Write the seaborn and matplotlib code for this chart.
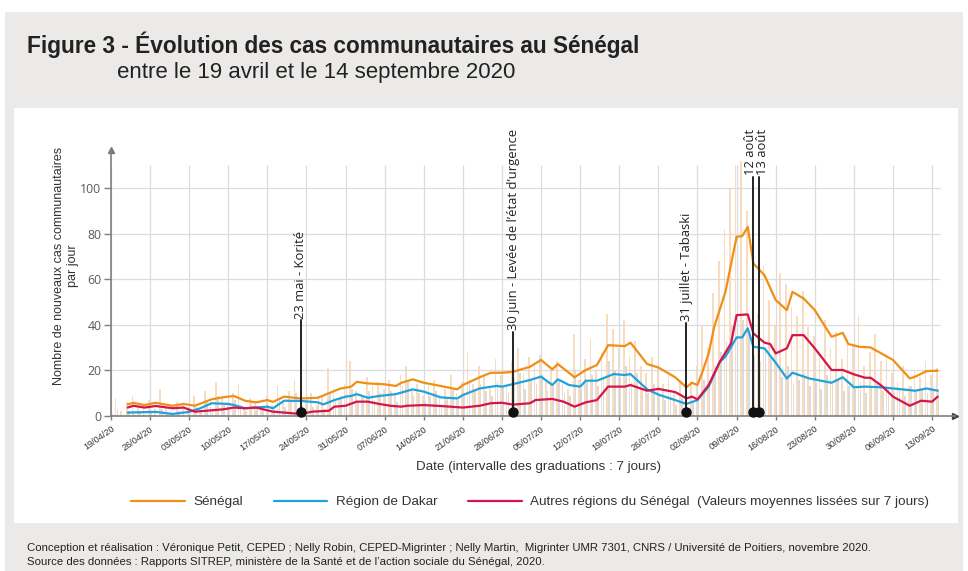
import matplotlib
matplotlib.use("Agg")
import numpy as np
import pandas as pd
import seaborn as sns
import matplotlib.pyplot as plt
from matplotlib import font_manager
from matplotlib.patches import Rectangle
from matplotlib.lines import Line2D

# --- Data (days counted from 19/04/2020) ---
tick_labels = ["19/04/20", "26/04/20", "03/05/20", "10/05/20", "17/05/20", "24/05/20",
               "31/05/20", "07/06/20", "14/06/20", "21/06/20", "28/06/20", "05/07/20",
               "12/07/20", "19/07/20", "26/07/20", "02/08/20", "09/08/20", "16/08/20",
               "23/08/20", "30/08/20", "06/09/20", "13/09/20"]

# daily new community cases (faint bars)
senegal_daily = [3, 8, 2, 6, 9, 4, 5,
                 7, 3, 12, 4, 2, 6, 5,
                 4, 9, 3, 11, 6, 15, 8,
                 5, 10, 14, 3, 8, 6, 4,
                 9, 5, 13, 7, 11, 16, 4,
                 7, 10, 5, 9, 21, 12, 8,
                 14, 24, 11, 9, 17, 13, 15,
                 12, 16, 10, 18, 22, 11, 14,
                 9, 13, 16, 8, 12, 18, 10,
                 15, 28, 14, 22, 17, 12, 25,
                 18, 13, 24, 30, 19, 26, 22,
                 27, 15, 20, 24, 14, 12, 36,
                 16, 25, 34, 20, 28, 45, 38,
                 30, 42, 27, 33, 22, 19, 26,
                 21, 14, 18, 11, 16, 9, 15,
                 22, 40, 30, 54, 68, 82, 100,
                 110, 112, 90, 58, 45, 66, 51,
                 40, 63, 58, 48, 44, 55, 39,
                 35, 28, 42, 30, 37, 25, 34,
                 31, 44, 22, 28, 36, 24, 27,
                 19, 15, 22, 13, 20, 17, 24,
                 18, 21]
dakar_daily = [1, 3, 0, 2, 1, 2, 1,
               2, 0, 3, 1, 1, 2, 0,
               1, 4, 2, 6, 3, 9, 5,
               3, 7, 5, 2, 6, 4, 3,
               5, 3, 8, 4, 7, 10, 5,
               6, 4, 8, 3, 10, 7, 9,
               8, 12, 6, 9, 11, 7, 10,
               8, 11, 6, 13, 15, 9, 10,
               6, 9, 11, 5, 8, 12, 7,
               10, 16, 12, 14, 11, 9, 15,
               13, 10, 17, 19, 12, 16, 14,
               18, 11, 13, 16, 10, 9, 20,
               12, 15, 18, 13, 17, 24, 20,
               17, 22, 15, 19, 12, 10, 14,
               9, 7, 10, 5, 8, 4, 6,
               8, 16, 14, 22, 28, 33, 40,
               45, 42, 36, 27, 24, 30, 26,
               20, 17, 22, 14, 16, 19, 13,
               15, 12, 18, 14, 16, 11, 13,
               12, 15, 10, 13, 14, 11, 12,
               10, 12, 9, 13, 11, 12, 10,
               11, 12]

# 7-day smoothed series
sen_days = [3, 4, 6, 8, 11, 13, 15, 18, 20, 22, 24, 26, 28, 29, 31, 34, 37, 39, 41, 43,
            44, 46, 49, 51, 52, 54, 56, 59, 62, 63, 66, 68, 70, 72, 75, 77, 79, 80, 83, 85,
            87, 89, 92, 93, 96, 98, 101, 103, 104, 105, 106, 107, 108, 110, 112, 113, 114, 115, 117, 119,
            121, 122, 124, 126, 129, 131, 132, 134, 136, 140, 143, 144, 146, 148]
sen_vals = [5.1, 5.8, 4.8, 5.8, 4.5, 5.3, 4.5, 7.3, 8.2, 8.8, 6.7, 6.0, 7.0, 6.2, 8.5, 7.7, 8.0, 10.0, 12.0, 12.9,
            15.0, 14.3, 13.9, 13.2, 14.6, 16.1, 14.6, 13.2, 11.7, 13.6, 17.0, 19.0, 19.0, 19.4, 21.6, 24.6, 20.5, 22.8, 17.0, 20.2,
            22.4, 31.1, 30.7, 32.2, 22.8, 21.3, 17.0, 12.6, 14.6, 13.6, 20.2, 27.5, 39.2, 54.5, 78.7, 79.0, 83.0, 67.0, 61.8, 50.9,
            46.5, 54.5, 51.6, 46.5, 34.8, 36.5, 31.6, 30.4, 30.1, 24.6, 16.5, 17.3, 19.7, 19.9]

dak_days = [3, 8, 11, 14, 16, 18, 21, 22, 24, 28, 29, 31, 34, 37, 38, 40, 42, 43, 44, 46,
            48, 51, 54, 56, 59, 62, 63, 66, 69, 70, 73, 75, 77, 79, 80, 82, 84, 85, 87, 90,
            92, 93, 96, 98, 101, 103, 105, 107, 109, 110, 112, 113, 114, 115, 117, 119, 121, 122, 125, 129,
            131, 133, 135, 138, 140, 144, 146, 148]
dak_vals = [1.5, 1.8, 0.9, 1.8, 3.4, 5.6, 5.3, 4.8, 3.4, 4.1, 3.4, 6.7, 6.6, 6.0, 5.1, 7.0, 8.5, 8.8, 9.6, 8.0,
            8.8, 9.6, 11.7, 10.7, 8.2, 7.7, 9.2, 12.1, 13.2, 12.9, 14.6, 15.8, 17.3, 13.6, 16.1, 13.6, 12.9, 15.5, 15.5, 18.4,
            18.0, 18.4, 11.7, 9.4, 7.0, 5.3, 7.0, 12.9, 23.8, 26.0, 34.5, 34.5, 38.5, 30.4, 29.7, 23.4, 16.5, 19.0, 16.5, 14.6,
            17.0, 12.6, 12.9, 12.6, 12.1, 11.1, 12.1, 11.1]

aut_days = [3, 4, 6, 8, 11, 13, 15, 17, 20, 22, 24, 26, 29, 31, 34, 36, 39, 40, 42, 44,
            46, 48, 50, 52, 53, 56, 59, 63, 66, 68, 70, 72, 75, 76, 79, 81, 83, 85, 87, 89,
            92, 93, 96, 98, 101, 102, 103, 104, 105, 107, 109, 111, 112, 114, 115, 117, 118, 119, 121, 122,
            124, 126, 129, 131, 133, 135, 136, 138, 140, 143, 145, 147, 148]
aut_vals = [3.7, 4.5, 3.7, 4.4, 3.4, 3.7, 1.9, 2.3, 2.9, 3.7, 3.4, 3.7, 1.9, 1.5, 0.9, 1.9, 2.3, 4.1, 4.5, 6.3,
            6.3, 5.3, 4.5, 4.1, 4.5, 4.8, 4.4, 3.7, 4.5, 5.6, 5.8, 5.0, 5.6, 7.0, 7.5, 6.3, 4.1, 6.0, 7.0, 12.9,
            12.9, 13.6, 11.1, 11.9, 10.5, 9.2, 7.7, 8.5, 7.3, 13.6, 23.8, 31.9, 44.3, 44.6, 36.3, 32.2, 31.6, 27.5, 29.7, 35.5,
            35.5, 29.7, 20.2, 20.2, 18.3, 16.8, 16.8, 13.2, 8.5, 4.5, 6.7, 6.3, 8.5]

event_days = [34, 72, 103, 115, 116]
event_tops = [42, 37, 41, 105, 105]
event_labels = ["23 mai - Korité", "30 juin - Levée de l\u2019état d\u2019urgence",
                "31 juillet - Tabaski", "12 août", "13 août"]
# small sideways nudge of the two close August labels so they sit side by side
event_text_shift = [0, 0, 0, -0.45, 0.55]

ORANGE = "#ef8f17"
BLUE = "#1ea3dc"
RED = "#d5144e"


def has_font(name):
    try:
        font_manager.findfont(font_manager.FontProperties(family=name), fallback_to_default=False)
        return True
    except Exception:
        return False


sns.set_theme(style="white")
plt.rcParams['font.family'] = ['Liberation Sans', 'DejaVu Sans']
NARROW = 'Liberation Sans Narrow' if has_font('Liberation Sans Narrow') else 'Liberation Sans'
TICKF = 'Open Sans' if has_font('Open Sans') else 'Liberation Sans'

W, H = 968, 571
fig = plt.figure(figsize=(W / 100, H / 100), dpi=100)
fig.patch.set_facecolor("white")

# grey page and white panel
fig.patches.append(Rectangle((5 / W, 0), 958 / W, 1 - 12 / H, transform=fig.transFigure,
                             facecolor="#ebeae8", edgecolor="none", zorder=-10))
fig.patches.append(Rectangle((14 / W, 1 - 523 / H), 944 / W, 415 / H, transform=fig.transFigure,
                             facecolor="white", edgecolor="none", zorder=-9))

ax = fig.add_axes([111 / W, 1 - 416 / H, (955 - 111) / W, (416 - 150) / H])
ax.set_facecolor("none")
ax.set_xlim(0, 151.1)
ax.set_ylim(0, 116.8)

# grid
yticks = [0, 20, 40, 60, 80, 100]
xticks = np.arange(len(tick_labels)) * 7
ax.hlines(yticks[1:], 0, 148.5, color="#dcdcdc", lw=0.9, zorder=0)
ax.vlines(xticks, 0, 110, color="#dcdcdc", lw=0.9, zorder=0)

# daily bars
days = np.arange(len(senegal_daily))
ax.bar(days - 0.17, senegal_daily, width=0.3, color="#f6d4b0", alpha=0.8, zorder=1, linewidth=0)
ax.bar(days + 0.17, dakar_daily, width=0.3, color="#d2d2d2", alpha=0.8, zorder=1, linewidth=0)

# smoothed lines
sns.lineplot(x=sen_days, y=sen_vals, ax=ax, color=ORANGE, lw=1.6, zorder=3)
sns.lineplot(x=dak_days, y=dak_vals, ax=ax, color=BLUE, lw=1.6, zorder=3)
sns.lineplot(x=aut_days, y=aut_vals, ax=ax, color=RED, lw=1.6, zorder=3)

# events
for d, top, lab, dx in zip(event_days, event_tops, event_labels, event_text_shift):
    ax.plot([d, d], [1.8, top], color="#222222", lw=1.4, zorder=4, clip_on=False)
    ax.plot([d], [1.8], "o", color="#111111", ms=6.5, zorder=5, clip_on=False)
    ax.text(d + dx, top + 0.8, lab, rotation=90, ha="center", va="bottom", fontsize=9.4,
            family=TICKF, color="#222222", zorder=5, clip_on=False)

# axes styling
for s in ["top", "right"]:
    ax.spines[s].set_visible(False)
for s in ["left", "bottom"]:
    ax.spines[s].set_color("#7f7f7f")
    ax.spines[s].set_linewidth(1.2)
ax.plot([1], [0], ">", transform=ax.transAxes, color="#444444", ms=5, clip_on=False)
ax.plot([0], [1], "^", transform=ax.transAxes, color="#777777", ms=4, clip_on=False)

ax.set_yticks(yticks)
ax.set_yticklabels([str(v) for v in yticks], family=TICKF, fontsize=8.8, color="#595959")
ax.set_xticks(xticks)
ax.set_xticklabels(tick_labels, rotation=35, ha="right", va="top", rotation_mode="anchor",
                   fontsize=6.6, color="#333333")
ax.tick_params(axis="y", length=5, width=1, color="#7f7f7f", pad=2, left=True)
ax.tick_params(axis="x", length=3, width=1, color="#7f7f7f", pad=3, bottom=True)
ax.set_xlabel("")
ax.set_ylabel("")

fig.text(66 / W, 1 - 266 / H, "Nombre de nouveaux cas communautaires\npar jour", rotation=90,
         ha="center", va="center", multialignment="center", fontsize=9, color="#333333")
fig.text(539 / W, 1 - 467 / H, "Date (intervalle des graduations : 7 jours)",
         ha="center", va="center", fontsize=9.6, color="#333333")

# legend
handles = [Line2D([], [], color=ORANGE, lw=1.6), Line2D([], [], color=BLUE, lw=1.6),
           Line2D([], [], color=RED, lw=1.6)]
labels = ["Sénégal", "Région de Dakar",
          "Autres régions du Sénégal  (Valeurs moyennes lissées sur 7 jours)"]
leg = ax.legend(handles, labels, loc="center left", bbox_to_anchor=(131 / W, 1 - 502 / H),
                bbox_transform=fig.transFigure, ncol=3, frameon=False, fontsize=9.7,
                handlelength=4.0, handletextpad=0.6, columnspacing=2.3,
                borderaxespad=0, borderpad=0)
for t in leg.get_texts():
    t.set_color("#333333")

# titles
fig.text(27 / W, 1 - 45 / H, "Figure 3 - Évolution des cas communautaires au Sénégal",
         family=NARROW, fontweight="bold", fontsize=16.3, color="#222222", va="center")
fig.text(117 / W, 1 - 72 / H, "entre le 19 avril et le 14 septembre 2020",
         family=NARROW, fontsize=16, color="#222222", va="center")

# footer
fig.text(27 / W, 1 - 548 / H,
         "Conception et réalisation : Véronique Petit, CEPED ; Nelly Robin, CEPED-Migrinter ; "
         "Nelly Martin,  Migrinter UMR 7301, CNRS / Université de Poitiers, novembre 2020.",
         fontsize=8.2, color="#222222", va="center")
fig.text(27 / W, 1 - 562 / H,
         "Source des données : Rapports SITREP, ministère de la Santé et de l\u2019action sociale du Sénégal, 2020.",
         fontsize=8.2, color="#222222", va="center")

fig.savefig("out.png", dpi=100, facecolor=fig.get_facecolor())
